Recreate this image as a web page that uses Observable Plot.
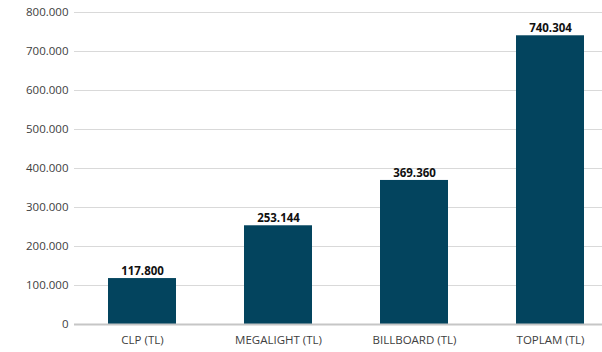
<!DOCTYPE html>
<html>
<head>
<meta charset="utf-8">
<script src="https://cdn.jsdelivr.net/npm/d3@7"></script>
<script src="https://cdn.jsdelivr.net/npm/@observablehq/plot@0.6"></script>
<style>
  html, body { margin: 0; padding: 0; background: #fff; overflow: hidden; }
  #chart svg { display: block; }
</style>
</head>
<body>
<div id="chart"></div>
<script>
const categories = ["CLP (TL)", "MEGALIGHT (TL)", "BILLBOARD (TL)", "TOPLAM (TL)"];
const values = [117800, 253144, 369360, 740304];
const yTicks = [0, 100000, 200000, 300000, 400000, 500000, 600000, 700000, 800000];

const data = categories.map((c, i) => ({category: c, value: values[i]}));
const fmt = d => d3.format(",")(d).replace(/,/g, ".");

const chart = Plot.plot({
  width: 602,
  height: 352,
  marginLeft: 74,
  marginRight: 0,
  marginTop: 12,
  marginBottom: 28,
  style: {fontFamily: "'Open Sans', sans-serif", fontSize: "11.5px", color: "#404040", background: "#fff"},
  x: {domain: categories, range: [74, 618], paddingInner: 0.5, paddingOuter: 0.25, align: 0.5, label: null, tickSize: 0, tickPadding: 11},
  y: {domain: [0, 800000], ticks: yTicks, tickFormat: fmt, label: null, grid: false, tickSize: 0, tickPadding: 6},
  marks: [
    Plot.ruleY(yTicks.filter(d => d > 0), {stroke: "#d9d9d9", strokeWidth: 1}),
    Plot.barY(data, {x: "category", y: "value", fill: "#03445e"}),
    Plot.ruleY([0], {stroke: "#c6c6c6", strokeWidth: 2}),
    Plot.text(data, {x: "category", y: "value", text: d => fmt(d.value), dy: -7, fontWeight: "bold", fontSize: 11.5, fill: "#111"})
  ]
});
document.getElementById("chart").append(chart);
</script>
</body>
</html>
